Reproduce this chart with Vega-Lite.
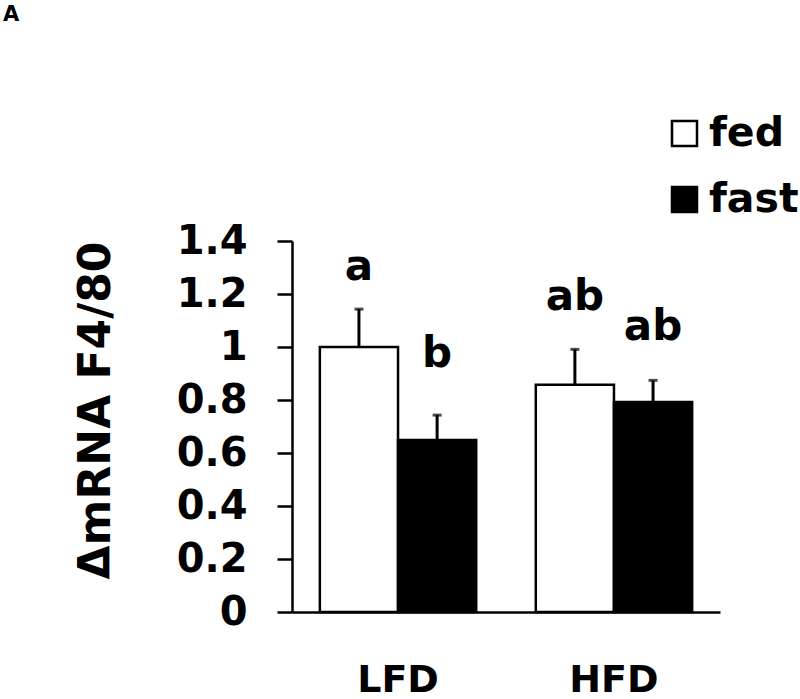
{
  "$schema": "https://vega.github.io/schema/vega-lite/v6.json",
  "autosize": "none",
  "padding": {"left": 292, "top": 241, "right": 80, "bottom": 87},
  "width": 428,
  "height": 371,
  "background": "white",
  "title": {"text": "A", "anchor": "start", "frame": "group", "dx": -289, "offset": 88, "fontSize": 21, "fontWeight": "bold", "font": "DejaVu Sans", "color": "black"},
  "config": {
    "view": {"stroke": null},
    "font": "DejaVu Sans",
    "axis": {"labelFont": "DejaVu Sans", "titleFont": "DejaVu Sans", "labelFontWeight": "bold", "titleFontWeight": "bold", "labelColor": "black", "titleColor": "black", "domainColor": "black", "tickColor": "black", "grid": false}
  },
  "data": {"values": [
    {"diet": "LFD", "condition": "fed", "mean": 1.0, "upper": 1.143, "letter": "a", "letterY": 1.253},
    {"diet": "LFD", "condition": "fast", "mean": 0.649, "upper": 0.743, "letter": "b", "letterY": 0.925},
    {"diet": "HFD", "condition": "fed", "mean": 0.858, "upper": 0.991, "letter": "ab", "letterY": 1.14},
    {"diet": "HFD", "condition": "fast", "mean": 0.792, "upper": 0.874, "letter": "ab", "letterY": 1.026}
  ]},
  "encoding": {
    "x": {"field": "diet", "type": "nominal", "sort": ["LFD", "HFD"], "scale": {"paddingInner": 0.276, "paddingOuter": 0.129},
      "axis": {"title": null, "labelAngle": 0, "ticks": false, "labelFontSize": 38, "labelPadding": 49, "domainWidth": 2.5}},
    "xOffset": {"field": "condition", "type": "nominal", "sort": ["fed", "fast"], "scale": {"domain": ["fed", "fast"], "paddingInner": 0, "paddingOuter": 0}}
  },
  "layer": [
    {
      "mark": {"type": "bar", "stroke": "black", "strokeWidth": 2.5},
      "encoding": {
        "y": {"field": "mean", "type": "quantitative", "scale": {"domain": [0, 1.4], "nice": false},
          "axis": {"title": "ΔmRNA F4/80", "values": [0, 0.2, 0.4, 0.6, 0.8, 1, 1.2, 1.4], "format": ".1~f", "labelFontSize": 40, "titleFontSize": 44, "tickSize": 15, "tickWidth": 2.5, "domainWidth": 2.5, "labelPadding": 30, "titlePadding": 58, "titleY": 169}},
        "fill": {"field": "condition", "type": "nominal", "scale": {"domain": ["fed", "fast"], "range": ["white", "black"]},
          "legend": {"title": null, "orient": "none", "legendX": 372, "legendY": -128, "padding": 0, "symbolType": "square", "symbolSize": 625, "symbolStrokeColor": "black", "symbolStrokeWidth": 2.5, "labelFontSize": 41, "labelFont": "DejaVu Sans", "labelFontWeight": "bold", "labelColor": "black", "labelOffset": 4, "rowPadding": 24}}
      }
    },
    {
      "mark": {"type": "rule", "color": "black", "strokeWidth": 3},
      "encoding": {
        "y": {"field": "mean", "type": "quantitative"},
        "y2": {"field": "upper"}
      }
    },
    {
      "mark": {"type": "tick", "color": "black", "orient": "horizontal", "size": 9, "thickness": 3},
      "encoding": {
        "y": {"field": "upper", "type": "quantitative"}
      }
    },
    {
      "mark": {"type": "text", "baseline": "alphabetic", "align": "center", "fontSize": 42, "fontWeight": "bold", "font": "DejaVu Sans", "color": "black"},
      "encoding": {
        "y": {"field": "letterY", "type": "quantitative"},
        "text": {"field": "letter"}
      }
    }
  ]
}
